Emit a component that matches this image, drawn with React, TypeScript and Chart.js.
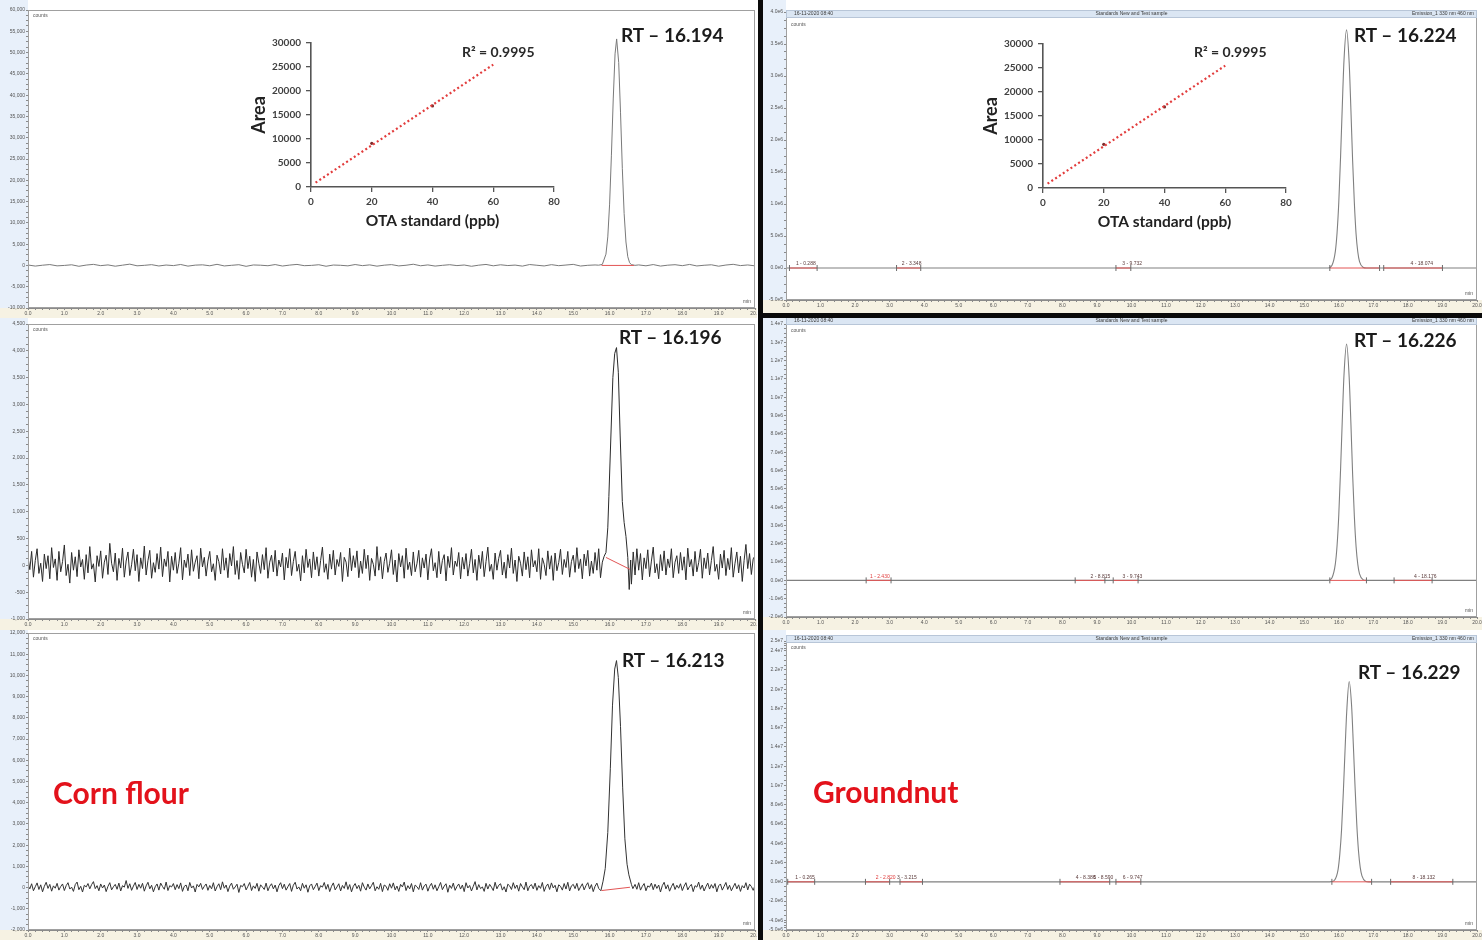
import React, { useEffect, useRef } from "react";
import { Chart, registerables } from "chart.js";

Chart.register(...registerables);
Chart.defaults.font.family = '"Liberation Sans", Arial, sans-serif';

// ======================= DATA =======================
const xMajorTicks = [0, 1, 2, 3, 4, 5, 6, 7, 8, 9, 10, 11, 12, 13, 14, 15, 16, 17, 18, 19, 20];

// ---- Top-left: OTA standard (counts) ----
const tlYTicks = [-10000, -5000, 0, 5000, 10000, 15000, 20000, 25000, 30000, 35000, 40000, 45000, 50000, 55000, 60000];
const tlNoiseStep = 0.2;
const tlNoiseA = [
  100, -150, 50, 200, -100, 0, 150, -200, 80, 250, -50, 120, -180, 60, 300, -90, 20, 180, -130, 90,
  -40, 220, -160, 70, 140, -80, 260, -120, 30, 170, -210, 110, 50, -70, 200, -140, 80, 240, -60, 10,
  160, -190, 90, 30, -100, 210, -50, 130, -170, 60, 190, -110, 40, 280, -80, 120, -150, 20, 170, -40,
  100, -200, 60, 230, -90, 150, -30, 80, -160, 210, 40, -120, 180, -60, 90, 250, -140, 30, 110,
];
const tlNoiseBStart = 16.8;
const tlNoiseB = [120, -90, 200, -150, 60, 170, -60, 230, -120, 40, 150, -180, 90, 260, -40, 110, -100];
const tlPeakT = [15.7, 15.8, 15.9, 15.95, 16.0, 16.05, 16.1, 16.15, 16.194, 16.25, 16.3, 16.35, 16.4, 16.45, 16.5, 16.55, 16.6, 16.7];
const tlPeakY = [60, 240, 2650, 6700, 14400, 25900, 39100, 49700, 53200, 47700, 36000, 22800, 12200, 5500, 2050, 650, 180, 20];
const tlRedSeg = [15.78, 0, 16.67, 0];

// ---- Middle-left: blank (counts) ----
const mlYTicks = [-1000, -500, 0, 500, 1000, 1500, 2000, 2500, 3000, 3500, 4000, 4500];
const mlNoiseStep = 0.05;
const mlNoiseA = [
  150, -80, 260, -220, 90, 310, -150, 40, -300, 210, -60, 180, -250, 330, -40, 120, -280, 260, -120, 70,
  380, -190, 20, -330, 240, -90, 160, -210, 290, -30, 110, -260, 200, -140, 350, -70, 30, -310, 180, -20,
  270, -240, 60, 190, -170, 410, 40, -120, 230, -280, 130, -50, 320, -220, 80, 250, -190, 10, 300, -100,
  200, -300, 140, -60, 360, -180, 90, 280, -240, 50, -130, 220, -70, 340, -210, 120, -20, 260, -310, 170,
  -90, 240, -150, 40, 330, -270, 100, -40, 210, -190, 290, -110, 60, 180, -250, 320, -30, 150, -200, 80,
  260, -120, 30, -280, 190, 70, -160, 310, -90, 140, -230, 220, -10, 350, -170, 90, -260, 240, 20, -140,
  300, -60, 170, -220, 110, -300, 250, 40, -150, 200, -80, 330, -240, 60, 190, -120, 280, -200, 100, -30,
  230, -270, 150, -50, 310, -190, 70, 260, -110, 20, -290, 180, -140, 300, -40, 120, -230, 250, -80, 160,
  -200, 90, 340, -130, 30, -260, 210, -70, 280, -180, 110, -20, 240, -300, 150, 60, -210, 320, -100, 180,
  -40, 270, -230, 80, -150, 300, -60, 190, -280, 130, 20, -200, 350, -90, 160, -250, 70, 230, -130, 40,
  290, -170, 100, -310, 220, -30, 180, -240, 320, -80, 60, -190, 250, -120, 30, 280, -220, 140, -50, 210,
  -270, 120, 310, -100, 50, -230, 260, -160, 90, 200, -290, 170, -40, 330, -180, 80, -20, 240, -250, 150,
  -70, 220, -200, 30, 300, -140, 110, -280, 190, -60, 260, -210, 70, 340, -110, 20, -260, 230, -90, 130,
  280, -180, 60, -240, 200, -50, 320, -150, 100, -300, 170, 40, -200, 250, -80, 160, -230, 290, -30, 90,
  -120, 310, -260, 140, 20, -190, 270, -70, 180, -280, 230, -100, 50, 300, -170, 110, -40, 260, -220, 70,
  190, -130, 330, -60, 120, -250, 210, -10, 280, -200, 80, -150, 240, -90, 310, -230, 60, 170,
];
const mlNoiseBStart = 16.6;
const mlNoiseB = [
  -350, 250, -180, 310, -90, 220, -270, 140,
  -60, 290, -210, 80, 340, -140, 30, -250, 200, -100, 270, -180, 120, -40, 310, -230, 60, 180, -150, 240,
  -90, 160, -270, 320, -30, 110, -200, 260, -120, 50, 300, -240, 140, -60, 230, -180, 90, 350, -110, 20,
  -260, 210, -50, 280, -190, 130, -80, 330, -220, 40, 250, -140, 170, -300, 90, 390, -60, 220, -170, 120,
  180,
];
const mlPeakT = [15.9, 15.95, 15.98, 16.03, 16.09, 16.14, 16.19, 16.24, 16.29, 16.35, 16.4, 16.45, 16.5, 16.54, 16.58];
const mlPeakY = [240, 700, 1280, 2300, 3500, 3950, 4060, 3600, 2430, 1190, 800, 540, 150, -450, 100];
const mlRedSeg = [15.9, 148, 16.56, -74];

// ---- Bottom-left: corn flour (counts) ----
const blYTicks = [-2000, -1000, 0, 1000, 2000, 3000, 4000, 5000, 6000, 7000, 8000, 9000, 10000, 11000, 12000];
const blNoiseStep = 0.05;
const blNoiseA = [
  100, -60, 180, -150, 40, 220, -90, 130, -200, 60, 250, -40, 150, -170, 80, -30, 200, -120, 50, 170,
  -140, 90, 230, -70, 20, -180, 140, 260, -100, 60, -210, 110, 30, 190, -60, 140, 280, -50, 90, -150,
  170, -20, 120, -190, 60, 230, -110, 40, 150, -80, 210, -160, 90, 20, 330, -40, 180, -130, 70, 240,
  -90, 150, -30, 200, -170, 80, 250, -60, 110, -200, 40, 170, -120, 210, 50, -80, 260, -140, 90, 30,
  190, -100, 140, -50, 220, -180, 60, 120, -150, 240, -20, 80, -210, 150, 30, 200, -90, 60, 170, -130,
  100, -60, 230, -160, 40, 180, -100, 270, -30, 120, -190, 70, 210, -80, 30, 160, -230, 100, 40, 190,
  -110, 60, 240, -140, 80, -40, 200, -170, 130, 20, -90, 210, -150, 60, 180, -60, 120, -200, 90, 230,
  -50, 160, -120, 40, 190, -180, 110, 250, -70, 30, -150, 200, -30, 130, -220, 80, 170, -100, 50, 210,
  -140, 90, 20, 240, -80, 150, -190, 60, 220, -110, 30, 180, -160, 100, -40, 270, -90, 140, -200, 60,
  190, -50, 110, -170, 230, 20, -120, 170, -60, 90, 250, -150, 40, -80, 200, -190, 120, 60, -130, 180,
  -30, 220, -110, 70, -180, 150, 30, 260, -140, 90, -60, 190, -200, 120, 40, -90, 230, -120, 80, 160,
  -170, 60, 200, -80, 130, -150, 40, 240, -100, 70, 180, -220, 110, -40, 210, -130, 50, 170, -70, 120,
  -190, 230, -20, 100, -160, 60, 280, -110, 140, -50, 30, -180, 200, -70, 150, 20, -140, 250, -60, 110,
  180, -120, 40, -210, 160, 80, -90, 230, -40, 120, -170, 190, 30, -100, 260, -150, 70, 140, -60, 210,
  -130, 90, -40, 240, -180, 50, 170, -90, 220, -20, 110, -200, 130, 60, -120, 190, -70, 250, -160, 80,
  150, -50, 200, -140, 30, 180, -110, 90, 230, -70, 140, -190, 60, 210, -40,
];
const blNoiseBStart = 16.7;
const blNoiseB = [
  150, -80, 230, -120, 60, 190, -150, 80, 20, 210,
  -100, 160, -40, 120, -210, 90, 250, -60, 130, -170,
  40, 200, -90, 110, -30, 180, -140, 70, 230, -110,
  50, 150, -190, 90, 20, 260, -80, 120, -160, 40,
  210, -70, 140, -30, 190, -200, 80, 170, -120, 60,
  240, -90, 110, -150, 30, 200, -60, 130, -180, 90,
  -20, 230, -110, 160, 50, -130, 100,
];
const blPeakT = [15.76, 15.82, 15.88, 15.95, 16.02, 16.08, 16.14, 16.19, 16.24, 16.3, 16.36, 16.42, 16.48, 16.53, 16.6, 16.64];
const blPeakY = [-150, 300, 900, 2600, 5600, 8600, 10300, 10700, 9900, 7600, 4700, 2300, 1100, 600, 150, -50];
const blRedSeg = [15.78, -140, 16.56, 15];

// ---- Top-right: standard (fluorescence) ----
const trYTicks = [-500000, 0, 500000, 1000000, 1500000, 2000000, 2500000, 3000000, 3500000, 4000000];
const trT = [0, 15.7, 15.8, 15.9, 15.95, 16.0, 16.05, 16.1, 16.15, 16.224, 16.3, 16.35, 16.4, 16.45, 16.5, 16.55, 16.6, 16.7, 16.8, 20];
const trY = [0, 0, 38000, 260000, 550000, 1030000, 1720000, 2510000, 3240000, 3720000, 3210000, 2480000, 1680000, 1020000, 530000, 250000, 100000, 12000, 0, 0];
const trRed = [[0.1, 0.9], [3.2, 3.9], [9.55, 9.98], [15.74, 17.18], [17.3, 19.0]];
const trPeakLabels = [
  { t: 0.288, text: "1 - 0.288", red: false },
  { t: 3.348, text: "2 - 3.348", red: false },
  { t: 9.732, text: "3 - 9.732", red: false },
  { t: 18.074, text: "4 - 18.074", red: false },
];

// ---- Middle-right ----
const mrYTicks = [-2000000, -1000000, 0, 1000000, 2000000, 3000000, 4000000, 5000000, 6000000, 7000000, 8000000, 9000000, 10000000, 11000000, 12000000, 13000000, 14000000];
const mrT = [0, 15.7, 15.8, 15.9, 15.95, 16.0, 16.05, 16.1, 16.15, 16.226, 16.3, 16.35, 16.4, 16.45, 16.5, 16.55, 16.6, 16.7, 16.8, 20];
const mrY = [0, 0, 130000, 900000, 1900000, 3600000, 6000000, 8700000, 11200000, 12900000, 11100000, 8600000, 5800000, 3500000, 1850000, 870000, 350000, 40000, 0, 0];
const mrRed = [[2.32, 3.04], [8.37, 9.23], [9.47, 10.19], [15.74, 16.8], [17.6, 18.7]];
const mrPeakLabels = [
  { t: 2.43, text: "1 - 2.430", red: true },
  { t: 8.815, text: "2 - 8.815", red: false },
  { t: 9.743, text: "3 - 9.743", red: false },
  { t: 18.176, text: "4 - 18.176", red: false },
];

// ---- Bottom-right: groundnut ----
const brYTicks = [-5000000, -4000000, -2000000, 0, 2000000, 4000000, 6000000, 8000000, 10000000, 12000000, 14000000, 16000000, 18000000, 20000000, 22000000, 24000000, 25000000];
const brT = [0, 15.68, 15.78, 15.88, 15.98, 16.03, 16.08, 16.13, 16.18, 16.23, 16.3, 16.37, 16.42, 16.47, 16.52, 16.57, 16.62, 16.67, 16.77, 16.87, 20];
const brY = [0, 0, 20000, 190000, 1300000, 2900000, 5400000, 9200000, 13600000, 17700000, 20800000, 18300000, 14300000, 9900000, 6000000, 3200000, 1500000, 620000, 70000, 0, 0];
const brRed = [[0.05, 0.83], [2.3, 3.0], [3.3, 3.95], [7.93, 9.37], [9.55, 10.27], [15.8, 16.95], [17.5, 19.3]];
const brPeakLabels = [
  { t: 0.265, text: "1 - 0.265", red: false },
  { t: 2.6, text: "2 - 2.820", red: true },
  { t: 3.215, text: "3 - 3.215", red: false },
  { t: 8.386, text: "4 - 8.386", red: false },
  { t: 8.9, text: "5 - 8.590", red: false },
  { t: 9.747, text: "6 - 9.747", red: false },
  { t: 18.132, text: "8 - 18.132", red: false },
];

// ---- Calibration insets ----
const calibX = [20, 40];
const calibY = [9100, 16900];
const trendX = [1.5, 60];
const trendY = [900, 25500];
const insetYTicks = [0, 5000, 10000, 15000, 20000, 25000, 30000];
const insetXTicks = [0, 20, 40, 60, 80];
const r2Text = "R² = 0.9995";

const headerTexts = ["16-11-2020 08:40", "Standards New and Test sample", "Emission_1 330 nm 460 nm"];

// ======================= HELPERS =======================
function noisyTrace(step: number, a: number[], peakT: number[], peakY: number[], bStart: number, b: number[]) {
  const pts: any[] = [];
  const p0 = peakT[0];
  const p1 = peakT[peakT.length - 1];
  a.forEach((v, i) => {
    const t = i * step;
    if (t < p0 - 1e-9) pts.push({ x: t, y: v });
  });
  peakT.forEach((t, i) => pts.push({ x: t, y: peakY[i] }));
  b.forEach((v, i) => {
    const t = bStart + i * step;
    if (t > p1 + 1e-9 && t <= 20.0001) pts.push({ x: t, y: v });
  });
  return pts;
}
function pairs(xs: number[], ys: number[]) {
  return xs.map((x, i) => ({ x, y: ys[i] }));
}
function segData(segs: number[][]) {
  const out: any[] = [];
  segs.forEach((s) => {
    out.push({ x: s[0], y: s[1] }, { x: s[2], y: s[3] }, { x: s[2], y: null });
  });
  return out;
}
function flatSegs(segs: number[][]) {
  return segs.map((s) => [s[0], 0, s[1], 0]);
}
function markData(segs: number[][]) {
  const out: any[] = [];
  segs.forEach((s) => out.push({ x: s[0], y: 0 }, { x: s[1], y: 0 }));
  return out;
}
function buildTicks(majors: number[], div: number) {
  return (scale: any) => {
    const out: any[] = [];
    for (let i = 0; i < majors.length; i++) {
      out.push({ value: majors[i] });
      if (i < majors.length - 1 && div > 1) {
        const a = majors[i], b = majors[i + 1];
        for (let k = 1; k < div; k++) out.push({ value: a + ((b - a) * k) / div });
      }
    }
    scale.ticks = out;
  };
}
const fmtComma = (v: number) => v.toLocaleString("en-US");
const fmtExp = (v: number) => (v === 0 ? "0.0e0" : v.toExponential(1).replace("e+", "e"));

// ======================= PANEL LAYOUT =======================
const panels: any[] = [
  {
    key: "tl", left: 0, top: 0, width: 757, height: 320, padTop: 10, padRight: 2, yW: 28, xH: 12,
    yMin: -10000, yMax: 60000, yTicks: tlYTicks, fmt: fmtComma, color: "#7a7a7a", lw: 1, mono: false,
    trace: noisyTrace(tlNoiseStep, tlNoiseA, tlPeakT, tlPeakY, tlNoiseBStart, tlNoiseB),
    red: [tlRedSeg], marks: [], labels: [], header: false,
  },
  {
    key: "ml", left: 0, top: 318, width: 757, height: 312, padTop: 6, padRight: 2, yW: 28, xH: 11,
    yMin: -1000, yMax: 4500, yTicks: mlYTicks, fmt: fmtComma, color: "#2b2b2b", lw: 1, mono: false,
    trace: noisyTrace(mlNoiseStep, mlNoiseA, mlPeakT, mlPeakY, mlNoiseBStart, mlNoiseB),
    red: [mlRedSeg], marks: [], labels: [], header: false,
  },
  {
    key: "bl", left: 0, top: 630, width: 757, height: 310, padTop: 3, padRight: 2, yW: 28, xH: 10,
    yMin: -2000, yMax: 12000, yTicks: blYTicks, fmt: fmtComma, color: "#333333", lw: 1, mono: false,
    trace: noisyTrace(blNoiseStep, blNoiseA, blPeakT, blPeakY, blNoiseBStart, blNoiseB),
    red: [blRedSeg], marks: [], labels: [], header: false,
  },
  {
    key: "tr", left: 763, top: 0, width: 719, height: 313, padTop: 12, padRight: 1, yW: 23, xH: 13,
    yMin: -500000, yMax: 4000000, yTicks: trYTicks, fmt: fmtExp, color: "#808080", lw: 1.1, mono: true,
    trace: pairs(trT, trY), red: flatSegs(trRed), marks: markData(trRed), labels: trPeakLabels,
    header: true, headerOff: -2,
  },
  {
    key: "mr", left: 763, top: 318, width: 719, height: 312, padTop: 6, padRight: 1, yW: 23, xH: 13,
    yMin: -2000000, yMax: 14000000, yTicks: mrYTicks, fmt: fmtExp, color: "#808080", lw: 1.1, mono: true,
    trace: pairs(mrT, mrY), red: flatSegs(mrRed), marks: markData(mrRed), labels: mrPeakLabels,
    header: true, headerOff: -7,
  },
  {
    key: "br", left: 763, top: 630, width: 719, height: 310, padTop: 11, padRight: 1, yW: 23, xH: 10,
    yMin: -5000000, yMax: 25000000, yTicks: brYTicks, fmt: fmtExp, color: "#808080", lw: 1.1, mono: true,
    trace: pairs(brT, brY), red: flatSegs(brRed), marks: markData(brRed), labels: brPeakLabels,
    header: true, headerOff: -6,
  },
];

function decorPlugin(p: any) {
  return {
    id: "decor_" + p.key,
    beforeDraw(chart: any) {
      const { ctx, chartArea: ca, width, height } = chart;
      ctx.save();
      ctx.fillStyle = "#ffffff";
      ctx.fillRect(0, 0, width, height);
      ctx.fillStyle = "#e8f0fa";
      ctx.fillRect(0, 0, ca.left, ca.bottom);
      ctx.fillStyle = "#f6f2e3";
      ctx.fillRect(0, ca.bottom, width, height - ca.bottom);
      ctx.restore();
    },
    afterDraw(chart: any) {
      const { ctx, chartArea: ca, scales } = chart;
      ctx.save();
      ctx.strokeStyle = "#a0a0a0";
      ctx.lineWidth = 1;
      ctx.strokeRect(ca.left + 0.5, ca.top + 0.5, ca.right - ca.left - 1, ca.bottom - ca.top - 1);
      ctx.font = '5px "Liberation Sans", Arial';
      ctx.fillStyle = "#555";
      ctx.textBaseline = "middle";
      ctx.textAlign = "left";
      ctx.fillText("counts", ca.left + 5, ca.top + (p.header ? (p.headerOff > -4 ? 13 : 7) : 6));
      ctx.textAlign = "right";
      ctx.fillText("min", ca.right - 4, ca.bottom - 6);
      if (p.header) {
        const hy = ca.top + p.headerOff;
        ctx.fillStyle = "#dbe6f3";
        ctx.fillRect(ca.left, hy, ca.right - ca.left, 7);
        ctx.strokeStyle = "#b8c6d8";
        ctx.strokeRect(ca.left + 0.5, hy + 0.5, ca.right - ca.left - 1, 7);
        ctx.fillStyle = "#3a3a3a";
        ctx.textAlign = "left";
        ctx.fillText(headerTexts[0], ca.left + 8, hy + 4);
        ctx.textAlign = "center";
        ctx.fillText(headerTexts[1], ca.left + (ca.right - ca.left) * 0.5, hy + 4);
        ctx.textAlign = "right";
        ctx.fillText(headerTexts[2], ca.right - 3, hy + 4);
      }
      const y0 = scales.y.getPixelForValue(0) - 4;
      ctx.textAlign = "left";
      p.labels.forEach((l: any) => {
        ctx.fillStyle = l.red ? "#e03a3a" : "#5a3a3a";
        ctx.fillText(l.text, scales.x.getPixelForValue(l.t), y0);
      });
      ctx.restore();
    },
  };
}

function makePanelConfig(p: any) {
  const xSet = new Set(xMajorTicks);
  const ySet = new Set(p.yTicks);
  const gridStyle = { drawOnChartArea: false, drawTicks: true, tickLength: 2, color: "#8a8a8a" };
  return {
    type: "line",
    data: {
      datasets: [
        {
          data: p.trace, borderColor: p.color, borderWidth: p.lw, pointRadius: 0, fill: false,
          tension: 0, cubicInterpolationMode: p.mono ? "monotone" : "default", order: 2,
        },
        {
          data: segData(p.red), borderColor: "#e25555", borderWidth: 1, pointRadius: 0, fill: false,
          spanGaps: false, order: 1,
        },
        {
          data: p.marks, showLine: false, pointStyle: "line", pointRotation: 90, pointRadius: 3,
          pointBorderColor: "#6a6a6a", pointBorderWidth: 1, order: 0,
        },
      ],
    },
    options: {
      animation: false,
      responsive: false,
      events: [],
      layout: { padding: { top: p.padTop, right: p.padRight, left: 0, bottom: 0 } },
      plugins: { legend: { display: false }, tooltip: { enabled: false } },
      scales: {
        x: {
          type: "linear", min: 0, max: 20,
          afterBuildTicks: buildTicks(xMajorTicks, 5),
          afterFit: (s: any) => { s.height = p.xH; s.paddingLeft = 0; s.paddingRight = 0; },
          ticks: {
            autoSkip: false, maxRotation: 0, minRotation: 0, padding: 1, color: "#555",
            font: { size: 5 }, callback: (v: number) => (xSet.has(v) ? v.toFixed(1) : ""),
          },
          grid: gridStyle,
          border: { color: "#8a8a8a" },
        },
        y: {
          type: "linear", min: p.yMin, max: p.yMax,
          afterBuildTicks: buildTicks(p.yTicks, 4),
          afterFit: (s: any) => { s.width = p.yW; s.paddingTop = 0; s.paddingBottom = 0; },
          ticks: {
            autoSkip: false, padding: 1, color: "#555", font: { size: 5 },
            callback: (v: number) => (ySet.has(v) ? p.fmt(v) : ""),
          },
          grid: gridStyle,
          border: { color: "#8a8a8a" },
        },
      },
    },
    plugins: [decorPlugin(p)],
  };
}

const insets = [
  { key: "i1", left: 240, top: 30 },
  { key: "i2", left: 972, top: 31 },
];
const INSET_W = 326;
const INSET_H = 202;

function makeInsetConfig() {
  const tickFont = { family: "Lato", weight: "bold", size: 10 };
  const axisGrid = { drawOnChartArea: false, drawTicks: true, tickLength: 5, color: "#555", lineWidth: 1.3 };
  return {
    type: "line",
    data: {
      datasets: [
        {
          data: pairs(trendX, trendY), borderColor: "#e23c3c", borderWidth: 2.2, borderDash: [2, 2.6],
          pointRadius: 0, fill: false,
        },
        {
          data: pairs(calibX, calibY), showLine: false, pointRadius: 1.6, pointBackgroundColor: "#7a2a2a",
          pointBorderWidth: 0,
        },
      ],
    },
    options: {
      animation: false,
      responsive: false,
      events: [],
      layout: { padding: { top: 13, right: 12, left: 0, bottom: 0 } },
      plugins: { legend: { display: false }, tooltip: { enabled: false } },
      scales: {
        x: {
          type: "linear", min: 0, max: 80,
          afterBuildTicks: (s: any) => { s.ticks = insetXTicks.map((v) => ({ value: v })); },
          afterFit: (s: any) => { s.height = 45; s.paddingLeft = 0; s.paddingRight = 0; },
          ticks: { color: "#404040", font: tickFont, padding: 4, maxRotation: 0, callback: (v: number) => String(v) },
          grid: axisGrid,
          border: { color: "#555", width: 1.6 },
          title: {
            display: true, text: "OTA standard (ppb)", color: "#222",
            font: { family: "Lato", weight: "bold", size: 15.5 }, padding: { top: 0, bottom: 2 },
          },
        },
        y: {
          type: "linear", min: 0, max: 30000,
          afterBuildTicks: (s: any) => { s.ticks = insetYTicks.map((v) => ({ value: v })); },
          afterFit: (s: any) => { s.width = 71; s.paddingTop = 0; s.paddingBottom = 0; },
          ticks: { color: "#404040", font: tickFont, padding: 5, callback: (v: number) => String(v) },
          grid: axisGrid,
          border: { color: "#555", width: 1.6 },
          title: {
            display: true, text: "Area", color: "#222",
            font: { family: "Lato", weight: "bold", size: 18 }, padding: { top: 8, bottom: 0 },
          },
        },
      },
    },
  };
}

function ChartBox({ x, y, w, h, make, z }: any) {
  const ref = useRef<HTMLCanvasElement>(null);
  useEffect(() => {
    const ch = new Chart(ref.current as any, make());
    return () => ch.destroy();
  }, []);
  return (
    <canvas
      ref={ref}
      width={w}
      height={h}
      style={{ position: "absolute", left: x, top: y, width: w, height: h, zIndex: z, display: "block" }}
    />
  );
}

const rtLabels = [
  { text: "RT – 16.194", x: 621, y: 25 },
  { text: "RT – 16.196", x: 619, y: 327 },
  { text: "RT – 16.213", x: 622, y: 650 },
  { text: "RT – 16.224", x: 1354, y: 25 },
  { text: "RT – 16.226", x: 1354, y: 330 },
  { text: "RT – 16.229", x: 1358, y: 662 },
];
const sampleLabels = [
  { text: "Corn flour", x: 53, y: 777 },
  { text: "Groundnut", x: 813, y: 776 },
];
const r2Labels = [
  { x: 462, y: 45 },
  { x: 1194, y: 45 },
];

export default function App() {
  const textBase: any = { position: "absolute", fontFamily: "Lato, 'Open Sans', sans-serif", fontWeight: 700, whiteSpace: "nowrap", zIndex: 5 };
  return (
    <div style={{ position: "fixed", left: 0, top: 0, width: 1482, height: 940, background: "#ffffff", overflow: "hidden" }}>
      {panels.map((p) => (
        <ChartBox key={p.key} x={p.left} y={p.top} w={p.width} h={p.height} z={1} make={() => makePanelConfig(p)} />
      ))}
      <div style={{ position: "absolute", left: 758, top: 0, width: 5, height: 940, background: "#0a0a0a", zIndex: 3 }} />
      <div style={{ position: "absolute", left: 758, top: 313, width: 724, height: 5, background: "#0a0a0a", zIndex: 3 }} />
      {insets.map((ins) => (
        <ChartBox key={ins.key} x={ins.left} y={ins.top} w={INSET_W} h={INSET_H} z={4} make={makeInsetConfig} />
      ))}
      {rtLabels.map((l) => (
        <div key={l.text} style={{ ...textBase, left: l.x, top: l.y, fontSize: 19, lineHeight: "19px", color: "#1b1b1b" }}>
          {l.text}
        </div>
      ))}
      {sampleLabels.map((l) => (
        <div key={l.text} style={{ ...textBase, left: l.x, top: l.y, fontSize: 30, lineHeight: "30px", color: "#e3121b" }}>
          {l.text}
        </div>
      ))}
      {r2Labels.map((l, i) => (
        <div key={"r2" + i} style={{ ...textBase, left: l.x, top: l.y, fontSize: 14, lineHeight: "14px", color: "#2a2a2a" }}>
          {r2Text}
        </div>
      ))}
    </div>
  );
}
